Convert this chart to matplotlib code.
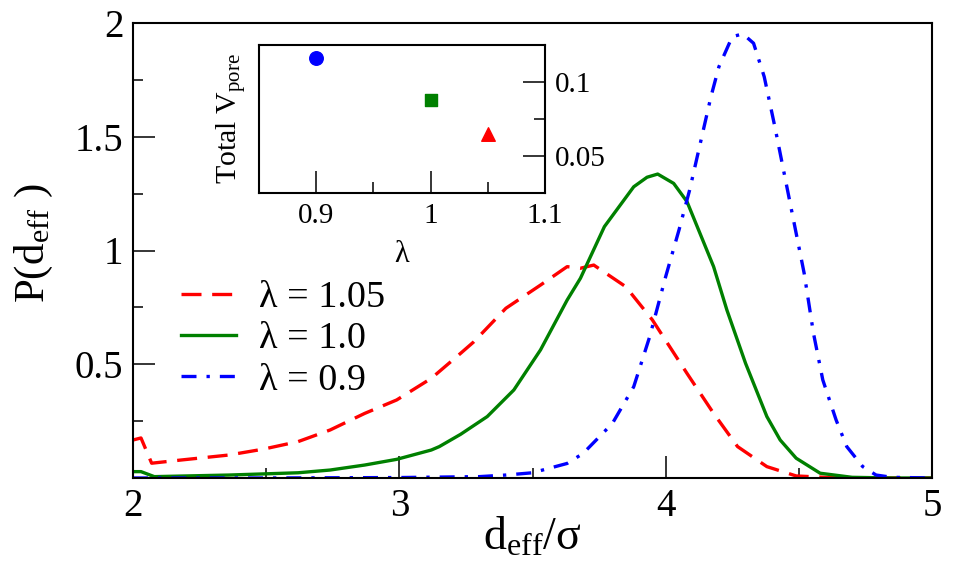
import matplotlib
matplotlib.use("Agg")
import matplotlib.pyplot as plt

plt.rcParams['font.family'] = ['Liberation Serif', 'DejaVu Serif']
plt.rcParams['mathtext.default'] = 'regular'

# ---- data ----
x_105 = [2.00, 2.03, 2.07, 2.18, 2.36, 2.49, 2.62, 2.74, 2.87, 2.99, 3.12, 3.23, 3.28,
         3.40, 3.53, 3.63, 3.68, 3.73, 3.85, 3.95, 4.08, 4.18, 4.27, 4.38, 4.49, 4.60,
         4.75, 5.00]
y_105 = [0.167, 0.176, 0.065, 0.079, 0.101, 0.127, 0.160, 0.211, 0.284, 0.343, 0.438,
         0.548, 0.599, 0.746, 0.848, 0.929, 0.922, 0.936, 0.841, 0.695, 0.460, 0.284,
         0.138, 0.050, 0.009, 0.003, 0.0, 0.0]

x_100 = [2.00, 2.03, 2.08, 2.36, 2.62, 2.74, 2.87, 2.99, 3.12, 3.15, 3.23, 3.33, 3.43,
         3.53, 3.63, 3.68, 3.77, 3.88, 3.93, 3.97, 4.03, 4.08, 4.18, 4.23, 4.30, 4.38,
         4.43, 4.49, 4.58, 4.70, 4.85, 5.00]
y_100 = [0.028, 0.028, 0.006, 0.013, 0.023, 0.035, 0.057, 0.082, 0.123, 0.138, 0.192,
         0.270, 0.387, 0.563, 0.782, 0.878, 1.105, 1.280, 1.322, 1.336, 1.295, 1.215,
         0.929, 0.738, 0.504, 0.270, 0.167, 0.087, 0.021, 0.003, 0.0, 0.0]

x_090 = [2.00, 2.50, 3.00, 3.30, 3.40, 3.50, 3.63, 3.69, 3.80, 3.88, 3.94, 4.00, 4.05,
         4.09, 4.12, 4.17, 4.20, 4.25, 4.29, 4.33, 4.37, 4.41, 4.44, 4.48, 4.52, 4.555,
         4.59, 4.64, 4.68, 4.74, 4.79, 4.85, 5.00]
y_090 = [0.0, 0.0, 0.002, 0.006, 0.013, 0.023, 0.064, 0.108, 0.240, 0.401, 0.621, 0.885,
         1.090, 1.266, 1.420, 1.676, 1.808, 1.940, 1.952, 1.911, 1.764, 1.544, 1.368,
         1.134, 0.900, 0.636, 0.431, 0.255, 0.138, 0.050, 0.013, 0.003, 0.0]

labels = ['λ = 1.05', 'λ = 1.0', 'λ = 0.9']

inset_lambda = [0.9, 1.0, 1.05]
inset_vpore = [0.1163, 0.088, 0.0652]

main_xticks = [2, 3, 4, 5]
main_xminor = [2.5, 3.5, 4.5]
main_yticks = [0.5, 1.0, 1.5, 2.0]
main_ytick_labels = ['0.5', '1', '1.5', '2']
main_yminor = [0.25, 0.75, 1.25, 1.75]
inset_xticks = [0.9, 1.0, 1.1]
inset_xtick_labels = ['0.9', '1', '1.1']
inset_xminor = [0.95, 1.05]
inset_yticks = [0.05, 0.1]
inset_ytick_labels = ['0.05', '0.1']
inset_yminor = [0.075]

# ---- figure ----
fig = plt.figure(figsize=(9.74, 5.65), dpi=100)
ax = fig.add_axes([133/974, 1-478/565, (932-133)/974, (478-23)/565])

lw = 2.4
ax.plot(x_105, y_105, color='#ff0000', lw=lw, dashes=(6, 3.2), label=labels[0])
ax.plot(x_100, y_100, color='#008000', lw=lw, label=labels[1])
ax.plot(x_090, y_090, color='#0000ff', lw=lw, dashes=(4.5, 3, 1, 3), label=labels[2])

ax.set_xlim(2, 5)
ax.set_ylim(0, 2)
ax.set_xticks(main_xticks)
ax.set_xticklabels([str(v) for v in main_xticks])
ax.set_xticks(main_xminor, minor=True)
ax.set_yticks(main_yticks)
ax.set_yticklabels(main_ytick_labels)
ax.set_yticks(main_yminor, minor=True)
ax.tick_params(which='both', direction='in', top=False, right=False, width=1.1)
ax.tick_params(which='major', length=16, labelsize=28, pad=7)
ax.tick_params(which='minor', length=7.5)
for s in ax.spines.values():
    s.set_linewidth(1.5)

ax.set_xlabel('d$_{eff}$/σ', fontsize=33, labelpad=-6)
ax.set_ylabel('P(d$_{eff}$ )', fontsize=31, labelpad=3)
ax.yaxis.set_label_coords(-0.098, 0.515)

leg = ax.legend(loc='center left', bbox_to_anchor=(0.060, 0.3055), frameon=False,
                prop={'family': ['Liberation Serif', 'DejaVu Serif'], 'size': 27.5},
                handlelength=1.45, handletextpad=0.6, labelspacing=0.17,
                borderpad=0, borderaxespad=0)

# ---- inset ----
axi = fig.add_axes([259/974, 1-193/565, (545-259)/974, (193-45)/565])
axi.scatter([inset_lambda[0]], [inset_vpore[0]], marker='o', s=95, color='#0000ff', zorder=3)
axi.scatter([inset_lambda[1]], [inset_vpore[1]], marker='s', s=65, color='#008000', zorder=3)
axi.scatter([inset_lambda[2]], [inset_vpore[2]], marker='^', s=95, color='#ff0000', zorder=3)
axi.set_xlim(0.85, 1.1)
axi.set_ylim(0.025, 0.125)
axi.set_xticks(inset_xticks)
axi.set_xticklabels(inset_xtick_labels)
axi.set_xticks(inset_xminor, minor=True)
axi.set_yticks(inset_yticks)
axi.set_yticklabels(inset_ytick_labels)
axi.set_yticks(inset_yminor, minor=True)
axi.yaxis.tick_right()
axi.tick_params(which='both', direction='in', top=False, left=False, right=True,
                labelleft=False, labelright=True, width=1.1)
axi.tick_params(which='major', length=16, labelsize=21, pad=7)
axi.tick_params(which='minor', length=8)
for s in axi.spines.values():
    s.set_linewidth(1.5)
axi.yaxis.set_label_position('left')
axi.set_ylabel('Total V$_{pore}$', fontsize=21.5, labelpad=8)
axi.set_xlabel('λ', fontsize=22, labelpad=8)

fig.savefig('out.png', dpi=100)
